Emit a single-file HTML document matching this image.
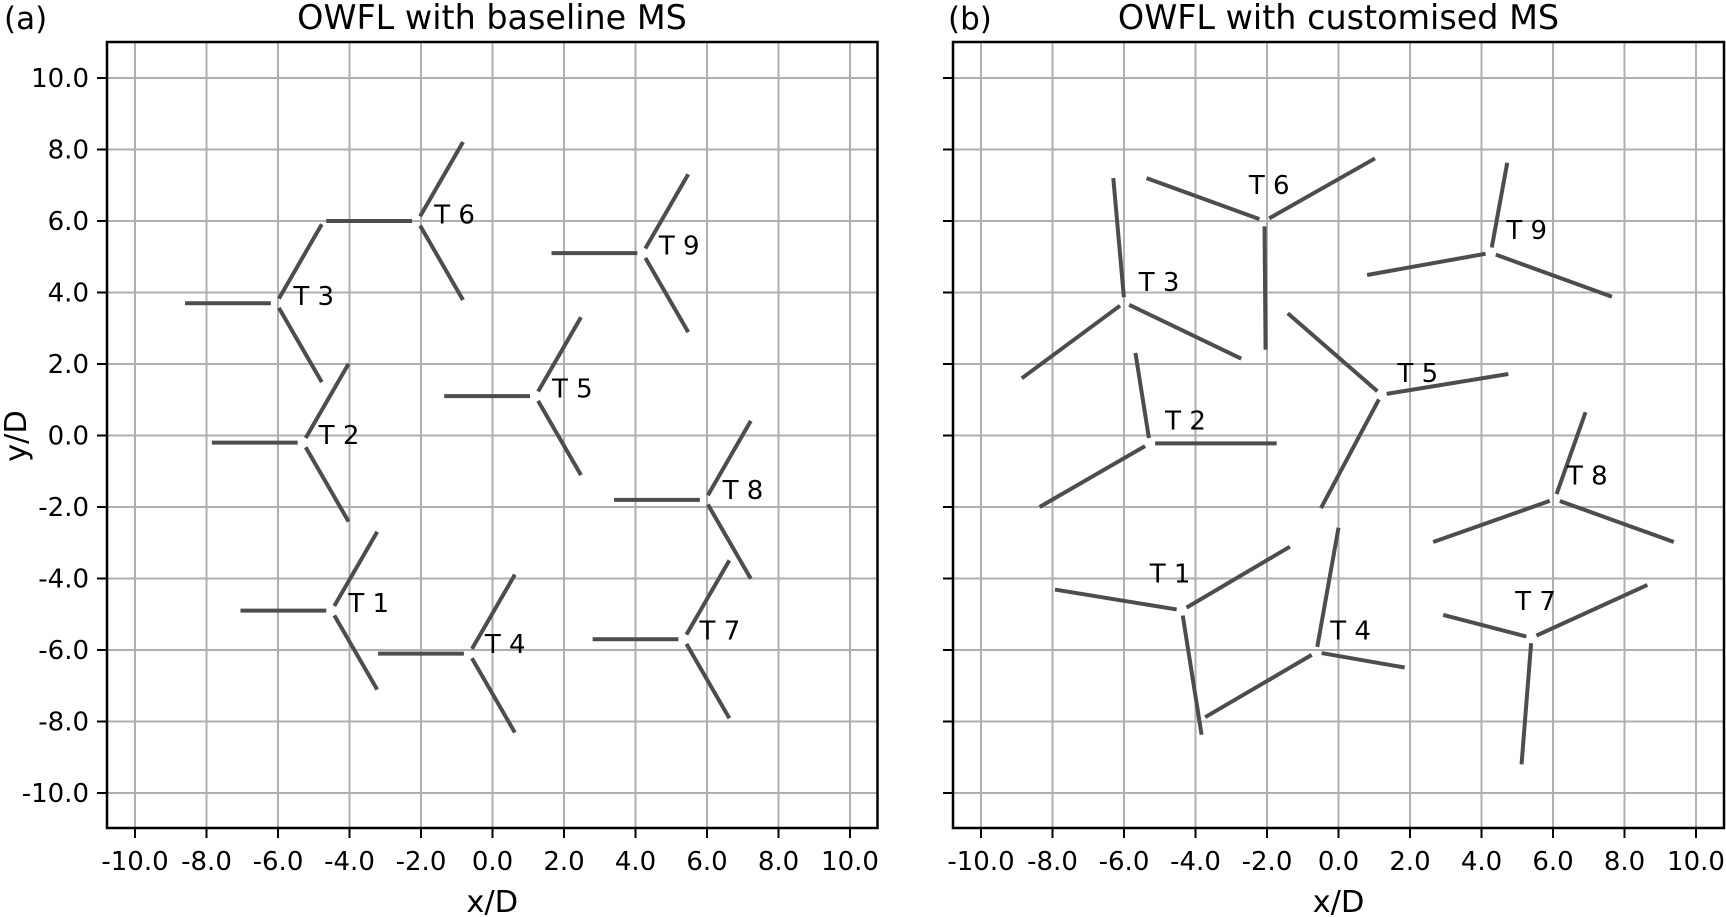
<!DOCTYPE html>
<html><head><meta charset="utf-8"><style>
html,body{margin:0;padding:0;background:#fff;}
svg{display:block;font-family:"DejaVu Sans","Liberation Sans",sans-serif;}
</style></head><body>
<svg id="s" width="1726" height="917" viewBox="0 0 1726 917" xmlns="http://www.w3.org/2000/svg"></svg>
<script>
const NS="http://www.w3.org/2000/svg";const s=document.getElementById('s');
function el(t,a,txt){const e=document.createElementNS(NS,t);for(const k in a)e.setAttribute(k,a[k]);if(txt!==undefined)e.textContent=txt;s.appendChild(e);return e;}
const K=1726/1568;
const P=[{x0:492.5,sx:35.75,L:107,R:877.5},{x0:1338.5,sx:35.75,L:953,R:1724}];
const y0=435.5,sy=35.75,T=42,B=828;
P.forEach((p,i)=>{
  const X=v=>p.x0+v*p.sx, Y=v=>y0-v*sy;
  for(let v=-10;v<=10;v+=2){
    el('line',{x1:X(v),x2:X(v),y1:T,y2:B,stroke:'#b0b0b0','stroke-width':2});
    el('line',{x1:p.L,x2:p.R,y1:Y(v),y2:Y(v),stroke:'#b0b0b0','stroke-width':2});
    el('line',{x1:X(v),x2:X(v),y1:B,y2:B+10,stroke:'#000','stroke-width':2});
    el('line',{x1:p.L-10,x2:p.L,y1:Y(v),y2:Y(v),stroke:'#000','stroke-width':2});
    el('text',{x:X(v),y:870,'font-size':26,'text-anchor':'middle'},v.toFixed(1));
    if(i==0)el('text',{x:89,y:Y(v)+9,'font-size':26,'text-anchor':'end'},v.toFixed(1));
  }
  el('text',{x:(p.L+p.R)/2,y:912,'font-size':30.5,'text-anchor':'middle'},'x/D');
});
el('text',{x:0,y:0,'font-size':30.5,'text-anchor':'middle',transform:'translate(26,436) rotate(-90)'},'y/D');
el('text',{x:4,y:29,'font-size':31},'(a)');
el('text',{x:948,y:29,'font-size':31},'(b)');
el('text',{x:492,y:29,'font-size':33.4,'text-anchor':'middle'},'OWFL with baseline MS');
el('text',{x:1338.5,y:29,'font-size':33.4,'text-anchor':'middle'},'OWFL with customised MS');
function blade(p,h,e){const X=v=>p.x0+v*p.sx,Y=v=>y0-v*sy;
  const dx=e[0]-h[0],dy=e[1]-h[1],l=Math.hypot(dx,dy),g=0.15/l;
  el('line',{x1:X(h[0]+dx*g),y1:Y(h[1]+dy*g),x2:X(e[0]),y2:Y(e[1]),stroke:'#4d4d4d','stroke-width':4});}
const A=[[-4.5,-4.9],[-5.3,-0.2],[-6.05,3.7],[-0.65,-6.1],[1.2,1.1],[-2.1,6.0],[5.35,-5.7],[5.95,-1.8],[4.2,5.1]];
A.forEach(h=>{[60,180,300].forEach(a=>{const r=2.55,t=a*Math.PI/180;blade(P[0],h,[h[0]+r*Math.cos(t),h[1]+r*Math.sin(t)]);});});
const Bt=[
 [[-2.07,6.0],[[1.02,7.75],[-5.37,7.2],[-2.04,2.4]]],
 [[-5.99,3.72],[[-6.30,7.2],[-8.86,1.6],[-2.72,2.15]]],
 [[4.26,5.11],[[4.72,7.63],[0.80,4.49],[7.65,3.88]]],
 [[1.20,1.14],[[-1.42,3.42],[4.75,1.72],[-0.49,-2.03]]],
 [[-5.28,-0.22],[[-5.68,2.31],[-1.73,-0.22],[-8.36,-2.0]]],
 [[6.05,-1.78],[[6.91,0.65],[9.38,-2.98],[2.65,-2.98]]],
 [[-4.38,-4.89],[[-1.36,-3.11],[-7.93,-4.31],[-3.83,-8.37]]],
 [[-0.62,-6.06],[[0.0,-2.58],[1.85,-6.49],[-3.73,-7.88]]],
 [[5.40,-5.66],[[8.64,-4.18],[2.93,-5.02],[5.12,-9.2]]]];
Bt.forEach(t=>t[1].forEach(e=>blade(P[1],t[0],e)));
const LA=[['T 6',413,195],['T 9',617,223],['T 3',285,269],['T 5',520,353],['T 2',308,395],['T 8',675,445],['T 1',335,548],['T 4',459,585],['T 7',654,573],
['T 6',1153,168],['T 9',1387,209],['T 3',1053,256],['T 5',1288,339],['T 2',1077,382],['T 8',1442,432],['T 1',1063,521],['T 4',1227,573],['T 7',1395,546]];
LA.forEach(l=>el('text',{x:l[1]*K,y:l[2]*K+9,'font-size':26,'text-anchor':'middle'},l[0]));
P.forEach(p=>el('rect',{x:p.L,y:T,width:p.R-p.L,height:B-T,fill:'none',stroke:'#000','stroke-width':2.5}));
</script>
</body></html>
